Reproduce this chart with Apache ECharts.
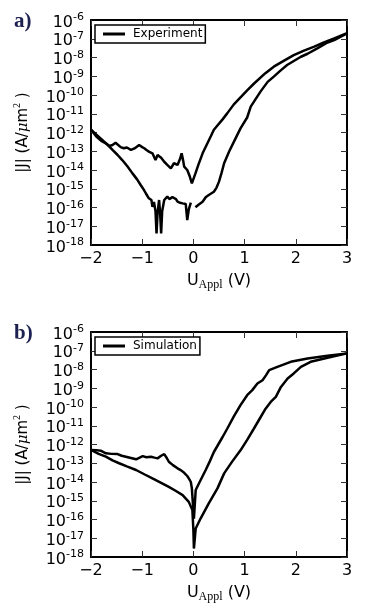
<!DOCTYPE html>
<html>
<head>
<meta charset="utf-8">
<script src="https://cdn.jsdelivr.net/npm/echarts@6/dist/echarts.min.js"></script>
<style>
  html, body { margin: 0; padding: 0; background: #fff; }
  #chart { width: 367px; height: 614px; }
</style>
</head>
<body>
<div id="chart"></div>
<script>
'use strict';

// U (V) vs log10 |J| (A/um^2)
var expUpper = [
  [-2.00, -11.85], [-1.90, -12.2], [-1.80, -12.45], [-1.71, -12.58], [-1.64, -12.72],
  [-1.58, -12.67], [-1.52, -12.55], [-1.49, -12.58], [-1.42, -12.78], [-1.36, -12.84],
  [-1.30, -12.8], [-1.22, -12.93], [-1.15, -12.85], [-1.06, -12.67], [-1.00, -12.78],
  [-0.96, -12.84], [-0.91, -12.95], [-0.87, -13.02], [-0.80, -13.11], [-0.74, -13.47],
  [-0.70, -13.2], [-0.68, -13.11], [-0.63, -13.35], [-0.57, -13.56], [-0.50, -13.75],
  [-0.44, -13.91], [-0.38, -13.64], [-0.31, -13.73], [-0.26, -13.4], [-0.23, -13.11],
  [-0.20, -13.5], [-0.18, -13.82], [-0.12, -14.0], [-0.07, -14.35], [-0.03, -14.71],
  [0.04, -14.18], [0.10, -13.7], [0.18, -13.11], [0.26, -12.65], [0.34, -12.2],
  [0.40, -11.85], [0.57, -11.3], [0.66, -10.98], [0.79, -10.5], [1.05, -9.75],
  [1.18, -9.4], [1.40, -8.85], [1.57, -8.49], [1.78, -8.15], [1.96, -7.87],
  [2.16, -7.63], [2.36, -7.42], [2.55, -7.2], [2.75, -6.98], [3.00, -6.7]
];
var expLowerNeg = [
  [-2.00, -11.85], [-1.90, -12.1], [-1.78, -12.4], [-1.68, -12.65], [-1.58, -12.93],
  [-1.48, -13.2], [-1.39, -13.47], [-1.29, -13.8], [-1.19, -14.18], [-1.10, -14.5],
  [-1.03, -14.8], [-0.97, -15.05], [-0.93, -15.24], [-0.87, -15.51], [-0.82, -15.6],
  [-0.80, -15.96], [-0.77, -15.7], [-0.76, -15.6], [-0.74, -16.2], [-0.72, -17.38],
  [-0.70, -16.3], [-0.67, -15.6], [-0.65, -16.3], [-0.63, -17.38], [-0.61, -16.2],
  [-0.57, -15.6], [-0.54, -15.5], [-0.51, -15.42], [-0.47, -15.55], [-0.44, -15.6],
  [-0.41, -15.45], [-0.38, -15.39], [-0.34, -15.55], [-0.31, -15.69], [-0.26, -15.75],
  [-0.21, -15.78], [-0.15, -15.81], [-0.12, -16.67], [-0.09, -16.1], [-0.05, -15.74]
];
var expLowerPos = [
  [0.04, -15.99], [0.10, -15.85], [0.18, -15.69], [0.24, -15.45], [0.30, -15.33],
  [0.40, -15.16], [0.45, -14.95], [0.50, -14.62], [0.55, -14.15], [0.60, -13.64],
  [0.70, -13.0], [0.79, -12.5], [0.92, -11.78], [1.05, -11.2], [1.12, -10.62],
  [1.31, -9.82], [1.45, -9.3], [1.57, -9.02], [1.70, -8.7], [1.83, -8.4],
  [2.10, -7.96], [2.23, -7.8], [2.42, -7.51], [2.62, -7.2], [2.75, -7.07], [3.00, -6.72]
];
var simUpper = [
  [-2.00, -12.29], [-1.90, -12.3], [-1.81, -12.33], [-1.71, -12.47], [-1.60, -12.5],
  [-1.48, -12.51], [-1.40, -12.6], [-1.32, -12.65], [-1.22, -12.72], [-1.12, -12.79],
  [-1.05, -12.7], [-0.99, -12.62], [-0.92, -12.68], [-0.83, -12.65], [-0.76, -12.7],
  [-0.70, -12.74], [-0.63, -12.6], [-0.57, -12.51], [-0.52, -12.72], [-0.48, -12.92],
  [-0.40, -13.1], [-0.31, -13.27], [-0.24, -13.38], [-0.18, -13.51], [-0.12, -13.68],
  [-0.09, -13.81], [-0.05, -14.0], [-0.03, -14.34], [-0.01, -15.14], [0.01, -15.95],
  [0.045, -14.43], [0.11, -14.07], [0.24, -13.36], [0.32, -12.9], [0.40, -12.4],
  [0.57, -11.6], [0.66, -11.16], [0.79, -10.5], [0.92, -9.9], [1.05, -9.37],
  [1.15, -9.1], [1.25, -8.75], [1.35, -8.57], [1.42, -8.3], [1.48, -8.03],
  [1.64, -7.86], [1.90, -7.59], [2.23, -7.41], [2.62, -7.27], [3.00, -7.14]
];
var simLower = [
  [-2.00, -12.29], [-1.85, -12.5], [-1.71, -12.65], [-1.58, -12.85], [-1.45, -13.0],
  [-1.30, -13.17], [-1.12, -13.36], [-0.95, -13.6], [-0.80, -13.81], [-0.64, -14.03],
  [-0.48, -14.26], [-0.34, -14.48], [-0.21, -14.7], [-0.09, -15.06], [-0.02, -15.5],
  [0.00, -16.57], [0.01, -17.55], [0.045, -16.48], [0.14, -15.95], [0.30, -15.14],
  [0.47, -14.34], [0.60, -13.54], [0.76, -12.9], [0.92, -12.31], [1.05, -11.75],
  [1.18, -11.16], [1.30, -10.6], [1.41, -10.09], [1.51, -9.73], [1.61, -9.46],
  [1.71, -8.93], [1.84, -8.48], [1.96, -8.21], [2.10, -7.86], [2.29, -7.59],
  [2.62, -7.37], [3.00, -7.14]
];
var panelLabels = ['a)', 'b)'];
var legendNames = ['Experiment', 'Simulation'];
var yMin = -18, yMax = -6;

var FONT = 'DejaVu Sans';
var chart = echarts.init(document.getElementById('chart'), null, {renderer: 'canvas'});

var grids = [
  {left: 91, top: 20, width: 256, height: 225},
  {left: 91, top: 332, width: 256, height: 225}
];

var tickStyle = {show: true, inside: true, length: 6, lineStyle: {color: '#333', width: 1}};
var boxLine = {show: true, onZero: false, lineStyle: {color: '#000', width: 2}};

// "10" with a raised exponent
var powLabel = {
  margin: 7, hideOverlap: false,
  rich: {
    b: {fontFamily: FONT, fontSize: 16, color: '#000', lineHeight: 12, padding: [5, 0, 0, 0]},
    s: {fontFamily: FONT, fontSize: 11, color: '#000', lineHeight: 11, verticalAlign: 'top', padding: [-2, 0, 2, 0]}
  }
};

function xAxes(gi) {
  return [
    {
      type: 'value', gridIndex: gi, min: -2, max: 3, interval: 1, position: 'bottom',
      axisLine: boxLine, axisTick: tickStyle, splitLine: {show: false},
      axisLabel: {
        color: '#000', fontFamily: FONT, fontSize: 16, margin: 6,
        showMinLabel: true, showMaxLabel: true,
        formatter: function (v) { return String(v).replace('-', '\u2212'); }
      },
      name: '{u|U}{sub|Appl}{u| (V)}',
      nameLocation: 'middle', nameGap: 26,
      nameTextStyle: {
        rich: {
          u: {fontFamily: FONT, fontSize: 16, color: '#000', lineHeight: 20},
          sub: {fontFamily: 'Liberation Serif', fontSize: 12, color: '#000', lineHeight: 12, verticalAlign: 'bottom'}
        }
      }
    },
    {
      type: 'value', gridIndex: gi, min: -2, max: 3, interval: 1, position: 'top',
      axisLine: boxLine, axisTick: tickStyle, axisLabel: {show: false}, splitLine: {show: false}
    }
  ];
}

function yAxes(gi) {
  return [
    {
      // inner decades (10^-17 .. 10^-7)
      type: 'value', gridIndex: gi, min: yMin, max: yMax, interval: 1, position: 'left',
      axisLine: boxLine, axisTick: tickStyle, splitLine: {show: false},
      axisLabel: Object.assign({}, powLabel, {
        showMinLabel: false, showMaxLabel: false,
        formatter: function (v) { return '{b|10}{s|' + v + '}'; }
      }),
      name: '{n||J| (A/}{mu|\u03bc}{n|m}{s|2}{n| )}',
      nameLocation: 'middle', nameGap: 57,
      nameTextStyle: {
        rich: {
          n: {fontFamily: FONT, fontSize: 15, color: '#000', lineHeight: 22},
          mu: {fontFamily: 'DejaVu Serif', fontStyle: 'italic', fontSize: 15, color: '#000', lineHeight: 22},
          s: {fontFamily: 'Liberation Serif', fontSize: 10, color: '#000', lineHeight: 10, verticalAlign: 'top'}
        }
      }
    },
    {
      type: 'value', gridIndex: gi, min: yMin, max: yMax, interval: 1, position: 'right',
      axisLine: boxLine, axisTick: tickStyle, axisLabel: {show: false}, splitLine: {show: false}
    },
    {
      // end labels 10^-18 and 10^-6
      type: 'value', gridIndex: gi, min: yMin, max: yMax, interval: 6, position: 'left',
      axisLine: {show: false}, axisTick: {show: false}, splitLine: {show: false},
      axisLabel: Object.assign({}, powLabel, {
        showMinLabel: true, showMaxLabel: true,
        formatter: function (v) {
          return (v === yMin || v === yMax) ? '{b|10}{s|' + v + '}' : '';
        }
      })
    }
  ];
}

function curve(name, data, gi) {
  return {
    name: name, type: 'line', data: data,
    xAxisIndex: gi * 2, yAxisIndex: gi * 3,
    showSymbol: false, symbol: 'none', silent: true,
    lineStyle: {color: '#000', width: 2.5},
    itemStyle: {color: '#000'}
  };
}

function legendBox(gi, top) {
  return {
    data: [legendNames[gi]], left: 95, top: top,
    orient: 'horizontal', icon: 'rect', itemWidth: 22, itemHeight: 3,
    padding: [3, 3, 3, 8], borderColor: '#000', borderWidth: 1.5, borderRadius: 0,
    backgroundColor: '#fff', selectedMode: false,
    textStyle: {fontFamily: FONT, fontSize: 12, color: '#000', padding: [0, 0, 0, 3]}
  };
}

var option = {
  animation: false,
  backgroundColor: '#fff',
  title: [
    {text: panelLabels[0], left: 9, top: 6, textStyle: {fontFamily: 'Liberation Serif', fontSize: 21, fontWeight: 'bold', color: '#1d2150'}},
    {text: panelLabels[1], left: 9, top: 318, textStyle: {fontFamily: 'Liberation Serif', fontSize: 21, fontWeight: 'bold', color: '#1d2150'}}
  ],
  legend: [legendBox(0, 25), legendBox(1, 337)],
  grid: grids,
  xAxis: xAxes(0).concat(xAxes(1)),
  yAxis: yAxes(0).concat(yAxes(1)),
  series: [
    curve(legendNames[0], expUpper, 0),
    curve(legendNames[0], expLowerNeg, 0),
    curve(legendNames[0], expLowerPos, 0),
    curve(legendNames[1], simUpper, 1),
    curve(legendNames[1], simLower, 1)
  ]
};

chart.setOption(option);
</script>
</body>
</html>
